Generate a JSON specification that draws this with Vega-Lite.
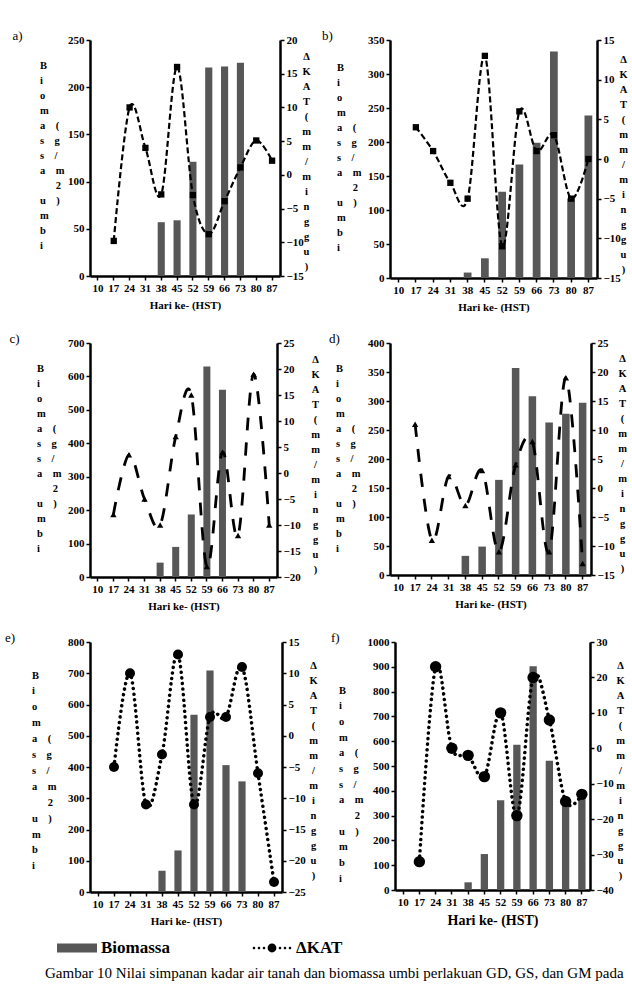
{
  "$schema": "https://vega.github.io/schema/vega-lite/v6.json",
  "background": "white",
  "padding": {"left": 5, "top": 30, "right": 0, "bottom": 0},
  "datasets": {
    "a": [
      {"x": 17, "bio": null, "kat": -9.8}, {"x": 24, "bio": null, "kat": 10}, {"x": 31, "bio": null, "kat": 4},
      {"x": 38, "bio": 57, "kat": -2.9}, {"x": 45, "bio": 59, "kat": 16}, {"x": 52, "bio": 121, "kat": -3},
      {"x": 59, "bio": 221, "kat": -8.8}, {"x": 66, "bio": 222, "kat": -3.9}, {"x": 73, "bio": 226, "kat": 1.1},
      {"x": 80, "bio": null, "kat": 5.1}, {"x": 87, "bio": null, "kat": 2.1}
    ],
    "b": [
      {"x": 17, "bio": null, "kat": 4}, {"x": 24, "bio": null, "kat": 1}, {"x": 31, "bio": null, "kat": -3},
      {"x": 38, "bio": 8, "kat": -5}, {"x": 45, "bio": 29, "kat": 13}, {"x": 52, "bio": 127, "kat": -11},
      {"x": 59, "bio": 167, "kat": 6}, {"x": 66, "bio": 199, "kat": 1}, {"x": 73, "bio": 333, "kat": 3},
      {"x": 80, "bio": 117, "kat": -5}, {"x": 87, "bio": 239, "kat": 0}
    ],
    "c": [
      {"x": 17, "bio": null, "kat": -8}, {"x": 24, "bio": null, "kat": 3.5}, {"x": 31, "bio": null, "kat": -5},
      {"x": 38, "bio": 43, "kat": -10}, {"x": 45, "bio": 90, "kat": 7}, {"x": 52, "bio": 187, "kat": 15},
      {"x": 59, "bio": 630, "kat": -18}, {"x": 66, "bio": 560, "kat": 4}, {"x": 73, "bio": null, "kat": -12},
      {"x": 80, "bio": null, "kat": 19}, {"x": 87, "bio": null, "kat": -10}
    ],
    "d": [
      {"x": 17, "bio": null, "kat": 11}, {"x": 24, "bio": null, "kat": -9}, {"x": 31, "bio": null, "kat": 2},
      {"x": 38, "bio": 33, "kat": -3}, {"x": 45, "bio": 49, "kat": 3}, {"x": 52, "bio": 164, "kat": -11},
      {"x": 59, "bio": 357, "kat": 4}, {"x": 66, "bio": 308, "kat": 8}, {"x": 73, "bio": 263, "kat": -11},
      {"x": 80, "bio": 278, "kat": 19}, {"x": 87, "bio": 297, "kat": -13}
    ],
    "e": [
      {"x": 17, "bio": null, "kat": -5}, {"x": 24, "bio": null, "kat": 10}, {"x": 31, "bio": null, "kat": -11},
      {"x": 38, "bio": 68, "kat": -3}, {"x": 45, "bio": 133, "kat": 13}, {"x": 52, "bio": 567, "kat": -11},
      {"x": 59, "bio": 709, "kat": 3}, {"x": 66, "bio": 406, "kat": 3}, {"x": 73, "bio": 354, "kat": 11},
      {"x": 80, "bio": null, "kat": -6}, {"x": 87, "bio": null, "kat": -23.4}
    ],
    "f": [
      {"x": 17, "bio": null, "kat": -32}, {"x": 24, "bio": null, "kat": 23}, {"x": 31, "bio": null, "kat": 0},
      {"x": 38, "bio": 31, "kat": -2}, {"x": 45, "bio": 145, "kat": -8}, {"x": 52, "bio": 362, "kat": 10},
      {"x": 59, "bio": 586, "kat": -19}, {"x": 66, "bio": 902, "kat": 20}, {"x": 73, "bio": 521, "kat": 8},
      {"x": 80, "bio": 365, "kat": -15}, {"x": 87, "bio": 370, "kat": -13}
    ]
  },
  "title": {
    "text": "Gambar 10 Nilai simpanan kadar air tanah dan biomassa umbi perlakuan GD, GS, dan GM pada",
    "orient": "bottom", "anchor": "start", "frame": "bounds", "baseline": "top",
    "font": "Liberation Serif", "fontSize": 15, "fontWeight": "normal", "color": "black",
    "offset": 10, "dx": 40
  },
  "spacing": 21,
  "vconcat": [
    {
      "spacing": 11,
      "hconcat": [
        {
          "width": 190, "height": 236,
          "title": {"text": "a)", "anchor": "start", "frame": "bounds", "dx": -27, "offset": -9},
          "data": {"name": "a"},
          "layer": [
            {
              "mark": {"type": "bar", "width": {"band": 0.45}},
              "encoding": {
                "x": {"field": "x", "type": "ordinal", "scale": {"type": "band", "domain": [10,17,24,31,38,45,52,59,66,73,80,87], "paddingInner": 0, "paddingOuter": 0}, "axis": {"title": "Hari ke- (HST)", "labelAngle": 0, "titlePadding": 6}},
                "y": {"field": "bio", "type": "quantitative", "scale": {"domain": [0, 250], "nice": false}, "axis": {"orient": "left", "values": [0,50,100,150,200,250], "labelOverlap": false, "title": ["B","i","o","m","a\u00a0\u00a0\u00a0\u00a0(","s\u00a0\u00a0\u00a0\u00a0g","s\u00a0\u00a0\u00a0\u00a0/","a\u00a0\u00a0\u00a0\u00a0m","\u200b\u00a0\u00a0\u00a0\u00a0\u00a0\u00a02","u\u00a0\u00a0\u00a0\u00a0)","m","b","i"], "titleX": -50.5, "titleY": 20, "titleAlign": "left", "titleAngle": 0, "titleBaseline": "top"}},
                "color": {"datum": "Biomassa", "scale": {"domain": ["Biomassa", "ΔKAT"], "range": ["#575757", "#000000"]},
                  "legend": {"orient": "none", "legendX": -33, "legendY": 888, "direction": "horizontal", "title": null,
                    "labelFont": "Liberation Serif", "labelFontSize": 17, "labelFontWeight": "bold", "labelColor": "black",
                    "symbolSize": 1600, "symbolType": "M-1,-0.22H1V0.22H-1Z", "symbolStrokeWidth": 0, "columnPadding": 82, "labelOffset": 4, "labelLimit": 200,
                    "encode": {"symbols": {"update": {"shape": {"signal": "datum.value === 'ΔKAT' ? 'M-0.22,0a0.22,0.22 0 1,0 0.44,0a0.22,0.22 0 1,0 -0.44,0M-0.965,0a0.065,0.065 0 1,0 0.13,0a0.065,0.065 0 1,0 -0.13,0M-0.715,0a0.065,0.065 0 1,0 0.13,0a0.065,0.065 0 1,0 -0.13,0M-0.465,0a0.065,0.065 0 1,0 0.13,0a0.065,0.065 0 1,0 -0.13,0M0.335,0a0.065,0.065 0 1,0 0.13,0a0.065,0.065 0 1,0 -0.13,0M0.585,0a0.065,0.065 0 1,0 0.13,0a0.065,0.065 0 1,0 -0.13,0M0.835,0a0.065,0.065 0 1,0 0.13,0a0.065,0.065 0 1,0 -0.13,0' : 'M-1,-0.22H1V0.22H-1Z'"}}}}
                  }}
              }
            },
            {
              "layer": [
                {
                  "mark": {"type": "line", "interpolate": "cardinal", "color": "black", "strokeDash": [6, 3], "strokeWidth": 2.2},
                  "encoding": {
                    "x": {"field": "x", "type": "ordinal", "scale": {"type": "band"}},
                    "y": {"field": "kat", "type": "quantitative", "scale": {"domain": [-15, 20], "nice": false, "zero": false}, "axis": {"orient": "right", "values": [-15,-10,-5,0,5,10,15,20], "labelOverlap": false, "title": ["Δ","K","A","T","(","m","m","/","m","i","n","g","g","u",")"], "titleX": 26, "titleY": 11, "titleAlign": "center", "titleAngle": 0, "titleBaseline": "top"}}
                  }
                },
                {
                  "mark": {"type": "point", "shape": "square", "filled": true, "size": 40, "opacity": 1},
                  "encoding": {
                    "x": {"field": "x", "type": "ordinal", "scale": {"type": "band"}},
                    "y": {"field": "kat", "type": "quantitative", "axis": {"orient": "right", "values": [-15,-10,-5,0,5,10,15,20], "labelOverlap": false, "title": ["Δ","K","A","T","(","m","m","/","m","i","n","g","g","u",")"], "titleX": 26, "titleY": 11, "titleAlign": "center", "titleAngle": 0, "titleBaseline": "top"}},
                    "color": {"datum": "ΔKAT"}
                  }
                }
              ]
            }
          ],
          "resolve": {"scale": {"y": "independent"}}
        },
        {
          "width": 207, "height": 238,
          "title": {"text": "b)", "anchor": "start", "frame": "bounds", "dx": -14.5, "offset": -9},
          "data": {"name": "b"},
          "layer": [
            {
              "mark": {"type": "bar", "width": {"band": 0.45}},
              "encoding": {
                "x": {"field": "x", "type": "ordinal", "scale": {"type": "band", "domain": [10,17,24,31,38,45,52,59,66,73,80,87], "paddingInner": 0, "paddingOuter": 0}, "axis": {"title": "Hari ke- (HST)", "labelAngle": 0, "titlePadding": 6}},
                "y": {"field": "bio", "type": "quantitative", "scale": {"domain": [0, 350], "nice": false}, "axis": {"orient": "left", "values": [0,50,100,150,200,250,300,350], "labelOverlap": false, "title": ["B","i","o","m","a\u00a0\u00a0\u00a0\u00a0(","s\u00a0\u00a0\u00a0\u00a0g","s\u00a0\u00a0\u00a0\u00a0/","a\u00a0\u00a0\u00a0\u00a0m","\u200b\u00a0\u00a0\u00a0\u00a0\u00a0\u00a02","u\u00a0\u00a0\u00a0\u00a0)","m","b","i"], "titleX": -53.5, "titleY": 22, "titleAlign": "left", "titleAngle": 0, "titleBaseline": "top"}},
                "color": {"datum": "Biomassa", "scale": {"domain": ["Biomassa", "ΔKAT"], "range": ["#575757", "#000000"]}}
              }
            },
            {
              "layer": [
                {
                  "mark": {"type": "line", "interpolate": "cardinal", "color": "black", "strokeDash": [6, 3], "strokeWidth": 2.2},
                  "encoding": {
                    "x": {"field": "x", "type": "ordinal", "scale": {"type": "band"}},
                    "y": {"field": "kat", "type": "quantitative", "scale": {"domain": [-15, 15], "nice": false, "zero": false}, "axis": {"orient": "right", "values": [-15,-10,-5,0,5,10,15], "labelOverlap": false, "title": ["Δ","K","A","T","(","m","m","/","m","i","n","g","g","u",")"], "titleX": 26, "titleY": 14, "titleAlign": "center", "titleAngle": 0, "titleBaseline": "top"}}
                  }
                },
                {
                  "mark": {"type": "point", "shape": "square", "filled": true, "size": 40, "opacity": 1},
                  "encoding": {
                    "x": {"field": "x", "type": "ordinal", "scale": {"type": "band"}},
                    "y": {"field": "kat", "type": "quantitative", "axis": {"orient": "right", "values": [-15,-10,-5,0,5,10,15], "labelOverlap": false, "title": ["Δ","K","A","T","(","m","m","/","m","i","n","g","g","u",")"], "titleX": 26, "titleY": 14, "titleAlign": "center", "titleAngle": 0, "titleBaseline": "top"}},
                    "color": {"datum": "ΔKAT"}
                  }
                }
              ]
            }
          ],
          "resolve": {"scale": {"y": "independent"}}
        }
      ]
    },
    {
      "spacing": 9,
      "hconcat": [
        {
          "width": 187, "height": 234,
          "title": {"text": "c)", "anchor": "start", "frame": "bounds", "dx": -27, "offset": -9},
          "data": {"name": "c"},
          "layer": [
            {
              "mark": {"type": "bar", "width": {"band": 0.45}},
              "encoding": {
                "x": {"field": "x", "type": "ordinal", "scale": {"type": "band", "domain": [10,17,24,31,38,45,52,59,66,73,80,87], "paddingInner": 0, "paddingOuter": 0}, "axis": {"title": "Hari ke- (HST)", "labelAngle": 0, "titlePadding": 6}},
                "y": {"field": "bio", "type": "quantitative", "scale": {"domain": [0, 700], "nice": false}, "axis": {"orient": "left", "values": [0,100,200,300,400,500,600,700], "labelOverlap": false, "title": ["B","i","o","m","a\u00a0\u00a0\u00a0\u00a0(","s\u00a0\u00a0\u00a0\u00a0g","s\u00a0\u00a0\u00a0\u00a0/","a\u00a0\u00a0\u00a0\u00a0m","\u200b\u00a0\u00a0\u00a0\u00a0\u00a0\u00a02","u\u00a0\u00a0\u00a0\u00a0)","m","b","i"], "titleX": -53.5, "titleY": 20, "titleAlign": "left", "titleAngle": 0, "titleBaseline": "top"}},
                "color": {"datum": "Biomassa", "scale": {"domain": ["Biomassa", "ΔKAT"], "range": ["#575757", "#000000"]}}
              }
            },
            {
              "layer": [
                {
                  "mark": {"type": "line", "interpolate": "cardinal", "color": "black", "strokeDash": [13, 12], "strokeWidth": 2.8},
                  "encoding": {
                    "x": {"field": "x", "type": "ordinal", "scale": {"type": "band"}},
                    "y": {"field": "kat", "type": "quantitative", "scale": {"domain": [-20, 25], "nice": false, "zero": false}, "axis": {"orient": "right", "values": [-20,-15,-10,-5,0,5,10,15,20,25], "labelOverlap": false, "title": ["Δ","K","A","T","(","m","m","/","m","i","n","g","g","u",")"], "titleX": 38, "titleY": 11, "titleAlign": "center", "titleAngle": 0, "titleBaseline": "top"}}
                  }
                },
                {
                  "mark": {"type": "point", "shape": "triangle-up", "filled": true, "size": 40, "opacity": 1},
                  "encoding": {
                    "x": {"field": "x", "type": "ordinal", "scale": {"type": "band"}},
                    "y": {"field": "kat", "type": "quantitative", "axis": {"orient": "right", "values": [-20,-15,-10,-5,0,5,10,15,20,25], "labelOverlap": false, "title": ["Δ","K","A","T","(","m","m","/","m","i","n","g","g","u",")"], "titleX": 38, "titleY": 11, "titleAlign": "center", "titleAngle": 0, "titleBaseline": "top"}},
                    "color": {"datum": "ΔKAT"}
                  }
                }
              ]
            }
          ],
          "resolve": {"scale": {"y": "independent"}}
        },
        {
          "width": 201, "height": 232,
          "title": {"text": "d)", "anchor": "start", "frame": "bounds", "dx": -6.5, "offset": -9},
          "data": {"name": "d"},
          "layer": [
            {
              "mark": {"type": "bar", "width": {"band": 0.45}},
              "encoding": {
                "x": {"field": "x", "type": "ordinal", "scale": {"type": "band", "domain": [10,17,24,31,38,45,52,59,66,73,80,87], "paddingInner": 0, "paddingOuter": 0}, "axis": {"title": "Hari ke- (HST)", "labelAngle": 0, "titlePadding": 6}},
                "y": {"field": "bio", "type": "quantitative", "scale": {"domain": [0, 400], "nice": false}, "axis": {"orient": "left", "values": [0,50,100,150,200,250,300,350,400], "labelOverlap": false, "title": ["B","i","o","m","a\u00a0\u00a0\u00a0\u00a0(","s\u00a0\u00a0\u00a0\u00a0g","s\u00a0\u00a0\u00a0\u00a0/","a\u00a0\u00a0\u00a0\u00a0m","\u200b\u00a0\u00a0\u00a0\u00a0\u00a0\u00a02","u\u00a0\u00a0\u00a0\u00a0)","m","b","i"], "titleX": -54.5, "titleY": 20, "titleAlign": "left", "titleAngle": 0, "titleBaseline": "top"}},
                "color": {"datum": "Biomassa", "scale": {"domain": ["Biomassa", "ΔKAT"], "range": ["#575757", "#000000"]}}
              }
            },
            {
              "layer": [
                {
                  "mark": {"type": "line", "interpolate": "cardinal", "color": "black", "strokeDash": [13, 12], "strokeWidth": 2.8},
                  "encoding": {
                    "x": {"field": "x", "type": "ordinal", "scale": {"type": "band"}},
                    "y": {"field": "kat", "type": "quantitative", "scale": {"domain": [-15, 25], "nice": false, "zero": false}, "axis": {"orient": "right", "values": [-15,-10,-5,0,5,10,15,20,25], "labelOverlap": false, "title": ["Δ","K","A","T","(","m","m","/","m","i","n","g","g","u",")"], "titleX": 31, "titleY": 10, "titleAlign": "center", "titleAngle": 0, "titleBaseline": "top"}}
                  }
                },
                {
                  "mark": {"type": "point", "shape": "triangle-up", "filled": true, "size": 40, "opacity": 1},
                  "encoding": {
                    "x": {"field": "x", "type": "ordinal", "scale": {"type": "band"}},
                    "y": {"field": "kat", "type": "quantitative", "axis": {"orient": "right", "values": [-15,-10,-5,0,5,10,15,20,25], "labelOverlap": false, "title": ["Δ","K","A","T","(","m","m","/","m","i","n","g","g","u",")"], "titleX": 31, "titleY": 10, "titleAlign": "center", "titleAngle": 0, "titleBaseline": "top"}},
                    "color": {"datum": "ΔKAT"}
                  }
                }
              ]
            }
          ],
          "resolve": {"scale": {"y": "independent"}}
        }
      ]
    },
    {
      "spacing": 13,
      "hconcat": [
        {
          "width": 192, "height": 250,
          "title": {"text": "e)", "anchor": "start", "frame": "bounds", "dx": -26.5, "offset": -9},
          "data": {"name": "e"},
          "layer": [
            {
              "mark": {"type": "bar", "width": {"band": 0.45}},
              "encoding": {
                "x": {"field": "x", "type": "ordinal", "scale": {"type": "band", "domain": [10,17,24,31,38,45,52,59,66,73,80,87], "paddingInner": 0, "paddingOuter": 0}, "axis": {"title": "Hari ke- (HST)", "labelAngle": 0, "titlePadding": 6}},
                "y": {"field": "bio", "type": "quantitative", "scale": {"domain": [0, 800], "nice": false}, "axis": {"orient": "left", "values": [0,100,200,300,400,500,600,700,800], "labelOverlap": false, "title": ["B","i","o","m","a\u00a0\u00a0\u00a0\u00a0(","s\u00a0\u00a0\u00a0\u00a0g","s\u00a0\u00a0\u00a0\u00a0/","a\u00a0\u00a0\u00a0\u00a0m","\u200b\u00a0\u00a0\u00a0\u00a0\u00a0\u00a02","u\u00a0\u00a0\u00a0\u00a0)","m","b","i"], "titleX": -58.5, "titleY": 28, "titleAlign": "left", "titleAngle": 0, "titleBaseline": "top", "titleLineHeight": 15.9}},
                "color": {"datum": "Biomassa", "scale": {"domain": ["Biomassa", "ΔKAT"], "range": ["#575757", "#000000"]}}
              }
            },
            {
              "layer": [
                {
                  "mark": {"type": "line", "interpolate": "cardinal", "color": "black", "strokeDash": [0.1, 5.5], "strokeCap": "round", "strokeWidth": 3.5},
                  "encoding": {
                    "x": {"field": "x", "type": "ordinal", "scale": {"type": "band"}},
                    "y": {"field": "kat", "type": "quantitative", "scale": {"domain": [-25, 15], "nice": false, "zero": false}, "axis": {"orient": "right", "values": [-25,-20,-15,-10,-5,0,5,10,15], "labelOverlap": false, "title": ["Δ","K","A","T","(","m","m","/","m","i","n","g","g","u",")"], "titleX": 31, "titleY": 18, "titleAlign": "center", "titleAngle": 0, "titleBaseline": "top"}}
                  }
                },
                {
                  "mark": {"type": "point", "shape": "circle", "filled": true, "size": 100, "opacity": 1},
                  "encoding": {
                    "x": {"field": "x", "type": "ordinal", "scale": {"type": "band"}},
                    "y": {"field": "kat", "type": "quantitative", "axis": {"orient": "right", "values": [-25,-20,-15,-10,-5,0,5,10,15], "labelOverlap": false, "title": ["Δ","K","A","T","(","m","m","/","m","i","n","g","g","u",")"], "titleX": 31, "titleY": 18, "titleAlign": "center", "titleAngle": 0, "titleBaseline": "top"}},
                    "color": {"datum": "ΔKAT"}
                  }
                }
              ]
            }
          ],
          "resolve": {"scale": {"y": "independent"}}
        },
        {
          "width": 195, "height": 248,
          "title": {"text": "f)", "anchor": "start", "frame": "bounds", "dx": -7.5, "offset": -9},
          "data": {"name": "f"},
          "layer": [
            {
              "mark": {"type": "bar", "width": {"band": 0.45}},
              "encoding": {
                "x": {"field": "x", "type": "ordinal", "scale": {"type": "band", "domain": [10,17,24,31,38,45,52,59,66,73,80,87], "paddingInner": 0, "paddingOuter": 0}, "axis": {"title": "Hari ke- (HST)", "labelAngle": 0, "titleFontSize": 14, "titlePadding": 6}},
                "y": {"field": "bio", "type": "quantitative", "scale": {"domain": [0, 1000], "nice": false}, "axis": {"orient": "left", "values": [0,100,200,300,400,500,600,700,800,900,1000], "labelOverlap": false, "format": "d", "title": ["B","i","o","m","a\u00a0\u00a0\u00a0\u00a0(","s\u00a0\u00a0\u00a0\u00a0g","s\u00a0\u00a0\u00a0\u00a0/","a\u00a0\u00a0\u00a0\u00a0m","\u200b\u00a0\u00a0\u00a0\u00a0\u00a0\u00a02","u\u00a0\u00a0\u00a0\u00a0)","m","b","i"], "titleX": -56.5, "titleY": 43, "titleAlign": "left", "titleAngle": 0, "titleBaseline": "top", "titleLineHeight": 15.7}},
                "color": {"datum": "Biomassa", "scale": {"domain": ["Biomassa", "ΔKAT"], "range": ["#575757", "#000000"]}}
              }
            },
            {
              "layer": [
                {
                  "mark": {"type": "line", "interpolate": "cardinal", "color": "black", "strokeDash": [0.1, 5.5], "strokeCap": "round", "strokeWidth": 3.5},
                  "encoding": {
                    "x": {"field": "x", "type": "ordinal", "scale": {"type": "band"}},
                    "y": {"field": "kat", "type": "quantitative", "scale": {"domain": [-40, 30], "nice": false, "zero": false}, "axis": {"orient": "right", "values": [-40,-30,-20,-10,0,10,20,30], "labelOverlap": false, "title": ["Δ","K","A","T","(","m","m","/","m","i","n","g","g","u",")"], "titleX": 30, "titleY": 18, "titleAlign": "center", "titleAngle": 0, "titleBaseline": "top"}}
                  }
                },
                {
                  "mark": {"type": "point", "shape": "circle", "filled": true, "size": 130, "opacity": 1},
                  "encoding": {
                    "x": {"field": "x", "type": "ordinal", "scale": {"type": "band"}},
                    "y": {"field": "kat", "type": "quantitative", "axis": {"orient": "right", "values": [-40,-30,-20,-10,0,10,20,30], "labelOverlap": false, "title": ["Δ","K","A","T","(","m","m","/","m","i","n","g","g","u",")"], "titleX": 30, "titleY": 18, "titleAlign": "center", "titleAngle": 0, "titleBaseline": "top"}},
                    "color": {"datum": "ΔKAT"}
                  }
                }
              ]
            }
          ],
          "resolve": {"scale": {"y": "independent"}}
        }
      ]
    }
  ],
  "config": {
    "view": {"stroke": null},
    "font": "Liberation Serif",
    "axis": {
      "domainColor": "black", "domainWidth": 2.5, "tickColor": "black", "tickWidth": 1.5, "tickSize": 4,
      "labelFont": "Liberation Serif", "labelFontSize": 11, "labelFontWeight": "bold", "labelColor": "black", "labelOverlap": false,
      "grid": false, "titleFont": "Liberation Serif", "titleFontWeight": "bold", "titleColor": "black", "titleFontSize": 11
    },
    "axisY": {"titleFontSize": 10.5, "titleLineHeight": 15},
    "title": {"font": "Liberation Serif", "fontWeight": "normal", "fontSize": 13, "color": "black", "baseline": "bottom"}
  }
}
